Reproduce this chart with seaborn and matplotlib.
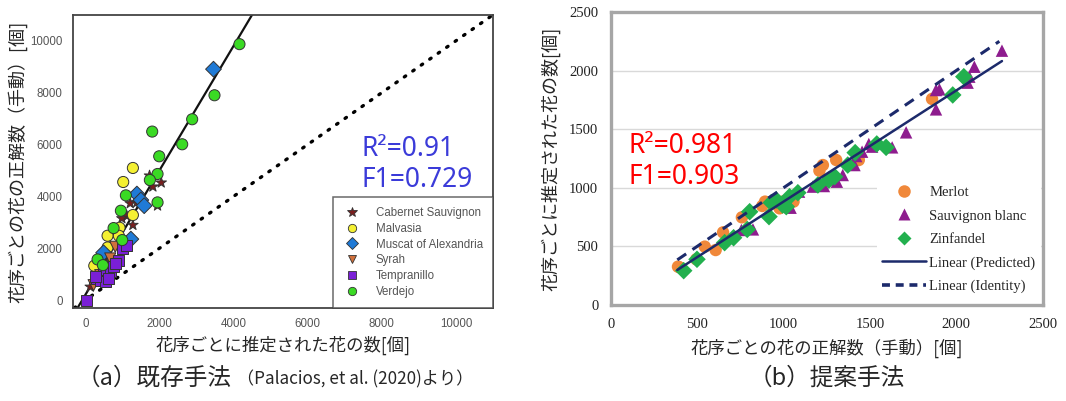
import numpy as np
import pandas as pd
import seaborn as sns
import matplotlib.pyplot as plt
from matplotlib.lines import Line2D

# ---- (a) existing method (Palacios et al. 2020): estimated vs manual ----
cabernet_x = [1734, 1824, 2049, 1950, 1213, 1393, 1123, 988, 1285, 809, 584, 314, 135]
cabernet_y = [4800, 4376, 4530, 3642, 3732, 3771, 3243, 3153, 2896, 2574, 1416, 772, 515]
malvasia_x = [1285, 1024, 1285, 925, 602, 907, 602, 243]
malvasia_y = [5097, 4556, 3282, 2793, 2484, 2484, 2033, 1326]
muscat_x = [3459, 1393, 1500, 1590, 1231, 494]
muscat_y = [8906, 4093, 3861, 3642, 2355, 1828]
syrah_x = [225, 674, 809, 404]
syrah_y = [579, 1609, 2059, 965]
tempranillo_x = [45, 314, 494, 674, 404, 764, 907, 539, 629, 997, 1114, 809, 270]
tempranillo_y = [0, 836, 1030, 1094, 772, 1287, 1544, 708, 836, 1995, 2124, 1416, 900]
verdejo_x = [4160, 3486, 2884, 2615, 1806, 1995, 1950, 1743, 1950, 1096, 961, 764, 997, 332, 476]
verdejo_y = [9870, 7900, 6975, 6010, 6500, 5547, 4865, 4633, 3770, 4041, 3449, 2780, 2317, 1570, 1351]
fit_a_slope, fit_a_intercept = 2.4, 200

# ---- (b) proposed method: manual vs estimated ----
merlot_x = [389, 400, 495, 544, 607, 650, 759, 877, 893, 977, 995, 1058, 1208, 1228, 1305, 1436, 1860]
merlot_y = [327, 320, 390, 498, 469, 620, 748, 845, 882, 825, 882, 882, 1146, 1194, 1237, 1237, 1758]
sauvignon_x = [756, 823, 1041, 1090, 1170, 1234, 1309, 1343, 1411, 1421, 1455, 1494, 1513, 1629, 1710,
               1883, 1883, 1903, 2066, 2076, 2105, 2265]
sauvignon_y = [640, 645, 830, 967, 1010, 1015, 1052, 1109, 1194, 1271, 1308, 1374, 1351, 1345, 1473,
               1669, 1834, 1840, 1897, 1948, 2033, 2170]
zinfandel_x = [422, 499, 659, 711, 790, 804, 916, 929, 958, 995, 1016, 1035, 1083, 1199, 1263, 1296,
               1372, 1415, 1540, 1594, 1980, 2044]
zinfandel_y = [293, 390, 532, 574, 645, 796, 754, 873, 896, 853, 839, 924, 958, 1024, 1066, 1095,
               1194, 1300, 1374, 1345, 1792, 1948]
fit_b_slope, fit_b_intercept = 0.948, -66
fit_b_range = [385, 2265]
identity_b_range = [385, 2250]


def frame(groups):
    rows = []
    for name, xs, ys in groups:
        for x, y in zip(xs, ys):
            rows.append({'x': x, 'y': y, 'variety': name})
    return pd.DataFrame(rows)


df_a = frame([('Cabernet Sauvignon', cabernet_x, cabernet_y),
              ('Malvasia', malvasia_x, malvasia_y),
              ('Muscat of Alexandria', muscat_x, muscat_y),
              ('Syrah', syrah_x, syrah_y),
              ('Tempranillo', tempranillo_x, tempranillo_y),
              ('Verdejo', verdejo_x, verdejo_y)])
df_b = frame([('Merlot', merlot_x, merlot_y),
              ('Sauvignon blanc', sauvignon_x, sauvignon_y),
              ('Zinfandel', zinfandel_x, zinfandel_y)])

pal_a = {'Cabernet Sauvignon': '#7a1f1f', 'Malvasia': '#f4f032', 'Muscat of Alexandria': '#1f7ad6',
         'Syrah': '#d0703c', 'Tempranillo': '#7a1fd6', 'Verdejo': '#3ada24'}
mk_a = {'Cabernet Sauvignon': '*', 'Malvasia': 'o', 'Muscat of Alexandria': 'D',
        'Syrah': 'v', 'Tempranillo': 's', 'Verdejo': 'o'}
pal_b = {'Merlot': '#f0883a', 'Sauvignon blanc': '#8e1c8e', 'Zinfandel': '#22b04e'}
mk_b = {'Merlot': 'o', 'Sauvignon blanc': '^', 'Zinfandel': 'D'}

sns.set_style('white')
plt.rcParams['font.family'] = ['Noto Sans CJK JP', 'DejaVu Sans']

fig = plt.figure(figsize=(10.66, 4.01), dpi=100)
ax1 = fig.add_axes([0.0685, 0.232, 0.394, 0.731])
ax2 = fig.add_axes([0.573, 0.2394, 0.405, 0.7307])

# ---------- panel (a) ----------
ax1.axline((0, 0), slope=1, color='black', lw=2.4, ls=(0, (0.5, 2.6)), dash_capstyle='round')
ax1.axline((0, fit_a_intercept), slope=fit_a_slope, color='#111111', lw=1.6)
sns.scatterplot(data=df_a, x='x', y='y', hue='variety', style='variety', palette=pal_a,
                markers=mk_a, s=64, edgecolor='#333333', linewidth=0.7, legend=False, ax=ax1, zorder=3)
ax1.set_xlim(-330, 11000)
ax1.set_ylim(-300, 11000)
ax1.set_xticks([0, 2000, 4000, 6000, 8000, 10000])
ax1.set_yticks([0, 2000, 4000, 6000, 8000, 10000])
ax1.tick_params(axis='both', direction='out', length=4, width=1, color='#666666',
                labelcolor='#555555', labelsize=8.3)
for lab in ax1.get_xticklabels() + ax1.get_yticklabels():
    lab.set_family('Liberation Sans')
for sp in ax1.spines.values():
    sp.set_color('#444444')
    sp.set_linewidth(1.3)
ax1.set_xlabel('花序ごとに推定された花の数[個]', fontsize=12.5, labelpad=4)
ax1.set_ylabel('花序ごとの花の正解数（手動）[個]', fontsize=13, labelpad=2)

handles_a = [Line2D([], [], ls='none', marker=mk_a[k], markersize=6 if mk_a[k] != '*' else 7,
                    markerfacecolor=pal_a[k], markeredgecolor='#333333', markeredgewidth=0.6)
             for k in pal_a]
leg_a = ax1.legend(handles_a, list(pal_a), loc='lower right', bbox_to_anchor=(1, 0),
                   borderaxespad=0, frameon=True, fancybox=False,
                   labelspacing=0.32, handletextpad=1.2, borderpad=0.9, handlelength=1.6,
                   prop={'family': 'Liberation Sans', 'size': 8.3})
leg_a.get_frame().set_edgecolor('#444444')
leg_a.get_frame().set_linewidth(1.1)
for t in leg_a.get_texts():
    t.set_color('#555555')

ax1.text(0.688, 0.59, 'R²=0.91\nF1=0.729', transform=ax1.transAxes, ha='left', va='top',
         fontsize=19, color='#3b3bd9', family='Noto Sans', linespacing=1.15)

# ---------- panel (b) ----------
ax2.yaxis.grid(True, color='#d9d9d9', lw=1)
ax2.set_axisbelow(True)
sns.scatterplot(data=df_b, x='x', y='y', hue='variety', style='variety', palette=pal_b,
                markers=mk_b, s=80, edgecolor='none', legend=False, ax=ax2, zorder=3)
xs_fit = np.array(fit_b_range)
ax2.plot(xs_fit, fit_b_slope * xs_fit + fit_b_intercept, color='#1c2a6b', lw=1.8, zorder=4)
xs_id = np.array(identity_b_range)
ax2.plot(xs_id, xs_id, color='#1c2a6b', lw=2.2, ls=(0, (3.5, 2.5)), zorder=4)
ax2.set_xlim(0, 2500)
ax2.set_ylim(0, 2500)
ax2.set_xticks(np.arange(0, 2501, 500))
ax2.set_yticks(np.arange(0, 2501, 500))
ax2.tick_params(axis='both', direction='out', length=4, width=1, color='#bfbfbf',
                labelcolor='#222222', labelsize=10.5, pad=5)
for lab in ax2.get_xticklabels() + ax2.get_yticklabels():
    lab.set_family('Liberation Serif')
for sp in ax2.spines.values():
    sp.set_color('#a6a6a6')
    sp.set_linewidth(2.4)
ax2.set_xlabel('花序ごとの花の正解数（手動）[個]', fontsize=12.5, labelpad=6)
ax2.set_ylabel('花序ごとに推定された花の数[個]', fontsize=13, labelpad=6)

handles_b = [Line2D([], [], ls='none', marker=mk_b[k], markersize=9 if mk_b[k] != 'D' else 7,
                    markerfacecolor=pal_b[k], markeredgecolor='none') for k in pal_b]
handles_b += [Line2D([], [], color='#1c2a6b', lw=1.8),
              Line2D([], [], color='#1c2a6b', lw=2.6, ls=(0, (2.2, 1.6)))]
labels_b = list(pal_b) + ['Linear (Predicted)', 'Linear (Identity)']
leg_b = ax2.legend(handles_b, labels_b, loc='lower right', bbox_to_anchor=(1.0, 0.015),
                   borderaxespad=0.1, frameon=True, fancybox=False, framealpha=1,
                   labelspacing=0.7, handlelength=3.0, handletextpad=0.2, borderpad=0.4,
                   prop={'family': 'Liberation Serif', 'size': 10.5})
leg_b.get_frame().set_edgecolor('none')
leg_b.get_frame().set_facecolor('white')
leg_b.set_zorder(5)

ax2.text(0.042, 0.592, 'R²=0.981\nF1=0.903', transform=ax2.transAxes, ha='left', va='top',
         fontsize=19, color='#ff0000', family='Noto Sans', linespacing=1.15)

# ---------- captions ----------
fig.text(0.072, 0.042, '（a）既存手法', fontsize=17, ha='left', va='baseline')
fig.text(0.222, 0.042, '（Palacios, et al. (2020)より）', fontsize=12.3, ha='left', va='baseline')
fig.text(0.776, 0.042, '（b）提案手法', fontsize=17, ha='center', va='baseline')

fig.savefig('out.png', dpi=100)
